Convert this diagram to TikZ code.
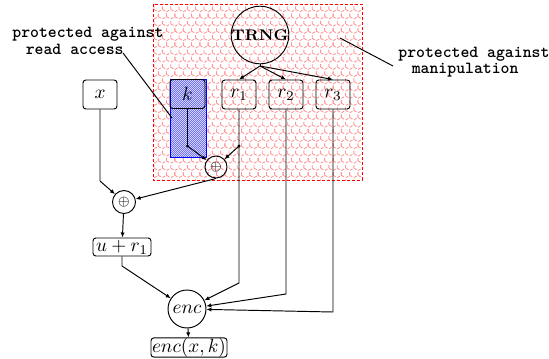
\documentclass[tikz,border=0pt]{standalone}
\usepackage{fontspec}
\newfontfamily\lblfont{lmmonolt10-bold.otf}
\usetikzlibrary{arrows.meta,patterns}
\pgfdeclarepatternformonly{hexcells}{\pgfqpoint{-0.3pt}{-0.3pt}}{\pgfqpoint{4.63pt}{7.8pt}}{\pgfqpoint{4.33pt}{7.5pt}}{%
 \pgfsetlinewidth{0.45pt}%
 \pgfpathmoveto{\pgfqpoint{0pt}{0pt}}\pgfpathlineto{\pgfqpoint{2.165pt}{1.25pt}}\pgfpathlineto{\pgfqpoint{4.33pt}{0pt}}%
 \pgfpathmoveto{\pgfqpoint{2.165pt}{1.25pt}}\pgfpathlineto{\pgfqpoint{2.165pt}{3.75pt}}%
 \pgfpathmoveto{\pgfqpoint{0pt}{5pt}}\pgfpathlineto{\pgfqpoint{2.165pt}{3.75pt}}\pgfpathlineto{\pgfqpoint{4.33pt}{5pt}}%
 \pgfpathmoveto{\pgfqpoint{0pt}{5pt}}\pgfpathlineto{\pgfqpoint{0pt}{7.5pt}}%
 \pgfpathmoveto{\pgfqpoint{4.33pt}{5pt}}\pgfpathlineto{\pgfqpoint{4.33pt}{7.5pt}}%
 \pgfusepath{stroke}}
\pgfdeclarepatternformonly{finechecks}{\pgfqpoint{0pt}{0pt}}{\pgfqpoint{1.04pt}{1.04pt}}{\pgfqpoint{1.04pt}{1.04pt}}{%
 \pgfpathrectangle{\pgfqpoint{0pt}{0pt}}{\pgfqpoint{0.52pt}{0.52pt}}%
 \pgfpathrectangle{\pgfqpoint{0.52pt}{0.52pt}}{\pgfqpoint{0.52pt}{0.52pt}}%
 \pgfusepath{fill}}
\begin{document}
\begin{tikzpicture}[x=0.52pt,y=-0.52pt,
  conn/.style={line width=0.5pt},
  arr/.style={conn,-{Latex[length=2.6pt,width=2.2pt]}},
  vbox/.style={draw,rounded corners=1.5pt,line width=0.5pt,minimum width={34*0.52pt},minimum height={29*0.52pt},inner sep=0pt},
  xorc/.style={draw,circle,line width=0.5pt,minimum size={22*0.52pt},inner sep=0pt,font=\scriptsize},
  lbl/.style={font=\lblfont\fontsize{8.8}{8.6}\selectfont,align=left,inner sep=0pt,anchor=west}]
\useasboundingbox (0,0) rectangle (549,358);
% protected regions
\path[draw=red,dash pattern=on 1.6pt off 1pt,line width=0.5pt,pattern=hexcells,pattern color=red!42] (153,4) rectangle (362,180);
\path[fill=blue!10] (170,79) rectangle (206,157);
\path[draw=blue,line width=0.5pt,pattern=finechecks,pattern color=blue!56] (170,79) rectangle (206,157);
% nodes
\node[draw,circle,line width=0.5pt,minimum size={44*0.52pt},inner sep=0pt,font=\fontsize{8}{9}\selectfont\bfseries] (trng) at (260,35) {TRNG};
\node[vbox,minimum width={35*0.52pt}] (k) at (187.5,94) {$k$};
\node[vbox] (r1) at (239,94.5) {$r_1$};
\node[vbox] (r2) at (286,94.5) {$r_2$};
\node[vbox] (r3) at (333,94.5) {$r_3$};
\node[vbox] (x) at (100,94.5) {$x$};
\node[xorc] (xo1) at (216,167) {$\oplus$};
\node[xorc,minimum size={23*0.52pt}] (xo2) at (124,202) {$\oplus$};
\node[vbox,minimum width={58*0.52pt},minimum height={18*0.52pt}] (ur) at (122,247) {$u+r_1$};
\node[draw,circle,line width=0.5pt,minimum size={38*0.52pt},inner sep=0pt] (enc) at (187,309) {$enc$};
\node[vbox,minimum width={76*0.52pt},minimum height={19*0.52pt}] (out) at (189,347.5) {$enc(x,k)$};
% junctions
\coordinate (jn) at (260,66);
\coordinate (kd) at (187.5,146);
\coordinate (rd) at (239,146);
\coordinate (r1b) at (239,283);
\coordinate (r2b) at (286,294);
\coordinate (r3b) at (333,312);
\coordinate (xb) at (100,181);
\coordinate (ub) at (122,266);
% connectors
\draw[conn] (trng) -- (jn);
\draw[arr] (jn) -- (r1.north);
\draw[arr] (jn) -- (r2.north);
\draw[arr] (jn) -- (r3.north);
\draw[conn] (k) -- (kd);
\draw[arr] (kd) -- (xo1);
\draw[arr] (r1) -- (r1b) -- (enc);
\draw[arr] (rd) -- (xo1);
\draw[arr] (r2) -- (r2b) -- (enc);
\draw[arr] (r3) -- (r3b) -- (enc);
\draw[arr] (x) -- (xb) -- (xo2);
\draw[arr] (xo1.south) -- (xo2);
\draw[arr] (xo2) -- (ur);
\draw[arr] (ur) -- (ub) -- (enc);
\draw[arr] (enc) -- (out);
\fill (kd) circle (0.9pt);
\fill (rd) circle (0.9pt);
% labels
\node[lbl] (rl) at (12,41) {protected against\\\hspace*{7pt}read access};
\node[lbl] (ml) at (398,62) {protected against\\\hspace*{7pt}manipulation};
\coordinate (rlA) at (123,53);
\coordinate (rlB) at (172,118);
\coordinate (mlA) at (393,66);
\coordinate (mlB) at (340,38);
\draw[conn] (rlA) -- (rlB);
\draw[conn] (mlA) -- (mlB);
\end{tikzpicture}
\end{document}
